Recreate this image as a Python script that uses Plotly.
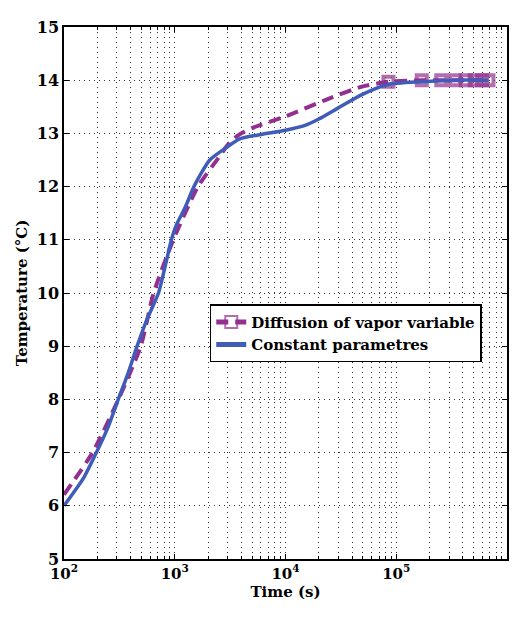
import plotly.graph_objects as go

# Constant parametres (blue, solid)
t_const = [100, 150, 196, 250, 309, 380, 457, 560, 713, 933, 1030, 1250, 1490, 2070, 3000,
           3900, 6000, 1.0e4, 1.5e4, 2.0e4, 3.0e4, 4.9e4, 8.4e4, 1.7e5, 3.4e5, 6.8e5]
y_const = [6.0, 6.52, 7.0, 7.48, 8.0, 8.5, 9.0, 9.5, 10.0, 11.0, 11.27, 11.62, 12.0, 12.5, 12.75,
           12.9, 12.98, 13.06, 13.15, 13.27, 13.48, 13.73, 13.92, 13.97, 14.0, 14.0]

# Diffusion of vapor variable (purple, dashed, markers on the last points)
t_diff = [100, 181, 310, 493, 645, 970, 1620, 2500, 3000, 3700, 5000, 1.0e4, 2.5e4,
          4.9e4, 8.5e4, 1.7e5, 2.55e5, 3.4e5, 4.25e5, 5.1e5, 5.95e5, 6.8e5]
y_diff = [6.21, 7.0, 8.0, 9.0, 10.0, 11.0, 12.0, 12.55, 12.78, 12.96, 13.1, 13.32, 13.66,
          13.88, 13.97, 14.0, 14.0, 14.0, 14.0, 14.0, 14.0, 14.0]
has_marker = [t >= 8.5e4 for t in t_diff]

x_ticks = [1e2, 1e3, 1e4, 1e5, 1e6]
x_ticktext = ["<b>10<sup>2</sup></b>", "<b>10<sup>3</sup></b>", "<b>10<sup>4</sup></b>",
              "<b>10<sup>5</sup></b>", "<b>10<sup>6</sup></b>"]

purple = "#93308f"
blue = "#3f5cb8"
font = "DejaVu Serif"

fig = go.Figure()
fig.add_trace(go.Scatter(
    x=t_diff, y=y_diff, mode="lines+markers", name="<b>Diffusion of vapor variable</b>",
    line=dict(color=purple, width=4, dash="12px,7px", shape="spline", smoothing=0.6),
    marker=dict(symbol="square-open", color=purple,
                size=[10 if m else 0 for m in has_marker], line=dict(width=4, color=purple)),
))
fig.add_trace(go.Scatter(
    x=t_const, y=y_const, mode="lines", name="<b>Constant parametres</b>",
    line=dict(color=blue, width=3.5, shape="spline", smoothing=0.6),
))

grid = dict(showgrid=True, gridcolor="#333", griddash="1px,4px", gridwidth=1)

fig.update_xaxes(
    type="log", range=[2, 6], tickvals=x_ticks, ticktext=x_ticktext,
    ticks="inside", ticklen=5, tickcolor="black",
    showline=True, linecolor="black", linewidth=1.5, mirror="ticks",
    minor=dict(dtick="D1", showgrid=True, gridcolor="#333", griddash="1px,4px",
               ticks="inside", ticklen=3, tickcolor="black"),
    title=dict(text="<b>Time (s)</b>", font=dict(size=15, family=font, color="black"), standoff=2),
    tickfont=dict(size=15, family=font, color="black"),
    zeroline=False, **grid,
)
fig.update_yaxes(
    range=[5, 15], dtick=1, ticks="inside", ticklen=5, tickcolor="black",
    showline=True, linecolor="black", linewidth=1.5, mirror="ticks",
    title=dict(text="<b>Temperature (°C)</b>", font=dict(size=15, family=font, color="black"), standoff=6),
    tickfont=dict(size=16, family=font, color="black"),
    tickprefix="<b>", ticksuffix="</b>",
    zeroline=False, **grid,
)

# the page keeps its 8px body margin, so the figure is shrunk and shifted to land like the reference;
# top/right margins leave room for the "15" and 10^6 edge labels inside the figure
fig.update_layout(
    width=513, height=605,
    margin=dict(l=56, r=14, t=10, b=54),
    paper_bgcolor="white", plot_bgcolor="white",
    font=dict(family=font, color="black"),
    legend=dict(x=0.329, y=0.479, xanchor="left", yanchor="top",
                bgcolor="white", bordercolor="black", borderwidth=1.5,
                font=dict(size=15, family=font, color="black"),
                itemsizing="constant", tracegroupgap=0),
)

fig.write_html("out.html", config={"displayModeBar": False})
